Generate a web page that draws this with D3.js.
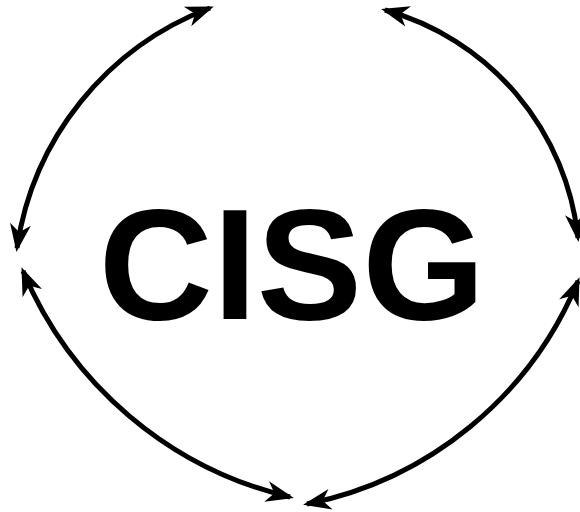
<!DOCTYPE html>
<html>
<head>
<meta charset="utf-8">
<script src="https://cdn.jsdelivr.net/npm/d3@7"></script>
<style>
  body { margin: 0; background: #fff; }
  svg { display: block; }
</style>
</head>
<body>
<script>
const width = 580, height = 512;

// label in the middle
const label = "CISG";

// each arrow: start point, end point, bulge (outward sag of the arc)
const arrowStart = [[210, 8], [385, 10], [23, 271], [578, 281]];
const arrowEnd   = [[17, 248], [578, 238], [290, 497], [307, 504]];
const arrowSag   = [42, 46, 42, 44];
const arrowSide  = [0, 1, 0, 1];   // sweep flag of the arc

const svg = d3.select('body').append('svg')
  .attr('width', width)
  .attr('height', height);

const defs = svg.append('defs');
defs.append('marker')
  .attr('id', 'head')
  .attr('viewBox', '-30 -12 32 24')
  .attr('refX', -4)
  .attr('refY', 0)
  .attr('markerUnits', 'userSpaceOnUse')
  .attr('markerWidth', 32)
  .attr('markerHeight', 24)
  .attr('orient', 'auto-start-reverse')
  .append('path')
  .attr('d', 'M0,0 L-28,-10.5 L-20,0 L-28,10.5 Z')
  .attr('fill', '#000');

function arcPath(i) {
  const [x0, y0] = arrowStart[i], [x1, y1] = arrowEnd[i];
  const L = Math.hypot(x1 - x0, y1 - y0);
  const s = arrowSag[i];
  const r = (L * L / 4 + s * s) / (2 * s);
  return `M${x0},${y0} A${r},${r} 0 0 ${arrowSide[i]} ${x1},${y1}`;
}

svg.selectAll('.arrow')
  .data(d3.range(arrowStart.length))
  .enter()
  .append('path')
  .attr('class', 'arrow')
  .attr('d', arcPath)
  .attr('fill', 'none')
  .attr('stroke', '#000')
  .attr('stroke-width', 5)
  .attr('marker-start', 'url(#head)')
  .attr('marker-end', 'url(#head)');

svg.append('text')
  .attr('x', 292)
  .attr('y', 319)
  .attr('text-anchor', 'middle')
  .style('font-family', '"Liberation Sans", Arial, sans-serif')
  .style('font-weight', 'bold')
  .style('font-size', '158px')
  .text(label);
</script>
</body>
</html>
